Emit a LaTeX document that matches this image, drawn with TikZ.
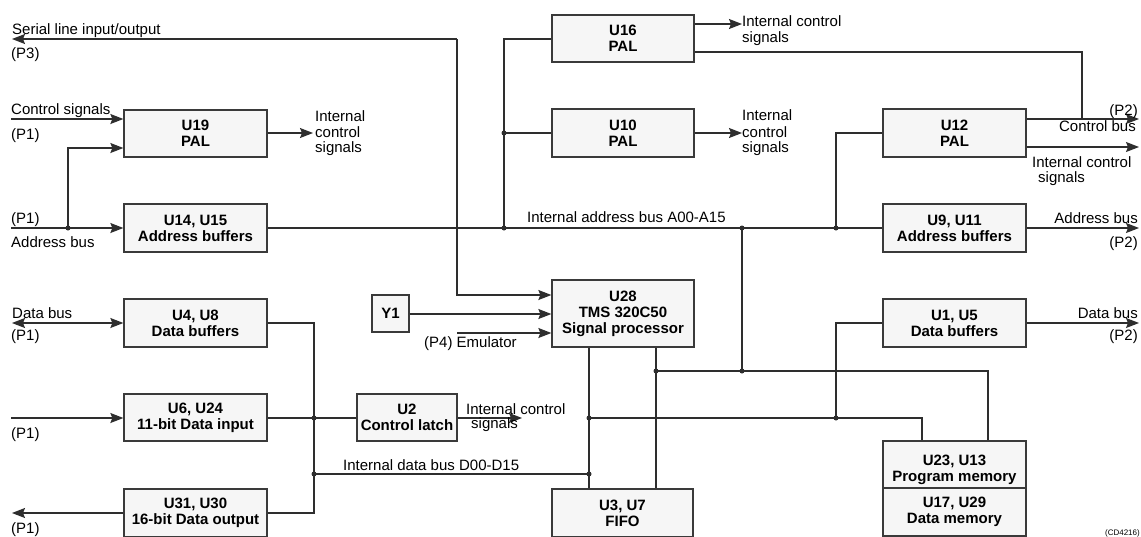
\documentclass[tikz,border=0pt]{standalone}
\usepackage{fontspec}
\setmainfont{Liberation Sans}
\usetikzlibrary{arrows.meta}
\definecolor{wirec}{HTML}{2E2E2E}
\definecolor{boxline}{HTML}{3A3A3A}
\definecolor{boxfill}{HTML}{F6F6F6}
\begin{document}
\begin{tikzpicture}[x=1pt,y=-1pt,
  unit/.style={draw=boxline, line width=1.3pt, fill=boxfill, inner sep=0,
    align=center, font=\fontsize{15}{16}\selectfont\bfseries},
  wire/.style={draw=wirec, line width=1.2pt},
  tip/.tip={Stealth[length=13pt,width=10pt,inset=2pt]},
  sig/.style={wire, -tip},
  bisig/.style={wire, tip-tip},
  lbl/.style={inner sep=0, font=\fontsize{15}{16}\selectfont},
  junc/.style={circle, fill=wirec, inner sep=0, minimum size=5pt}]

\useasboundingbox (0,0) rectangle (1141,536);
\fill[white] (0,0) rectangle (1141,536);
\clip (0,0) rectangle (1141,536);

% ---- units, left column
\node[unit, minimum width=143, minimum height=47] (u19) at (195.5,133.5) {U19\\PAL};
\node[unit, minimum width=143, minimum height=48] (u14) at (195.5,228) {U14, U15\\Address buffers};
\node[unit, minimum width=143, minimum height=48] (u4)  at (195.5,323) {U4, U8\\Data buffers};
\node[unit, minimum width=143, minimum height=47] (u6)  at (195.5,417.5) {U6, U24\\11-bit Data input};
\node[unit, minimum width=143, minimum height=48] (u31) at (195.5,513) {U31, U30\\16-bit Data output};

% ---- units, middle
\node[unit, minimum width=142, minimum height=47] (u16) at (623,38.5) {U16\\PAL};
\node[unit, minimum width=142, minimum height=48] (u10) at (623,133) {U10\\PAL};
\node[unit, minimum width=142, minimum height=67] (u28) at (623,313.5) {U28\\TMS 320C50\\Signal processor};
\node[unit, minimum width=37, minimum height=37] (y1) at (390.5,313.5) {Y1};
\node[unit, minimum width=100, minimum height=47] (u2) at (407,417.5) {U2\\Control latch};
\node[unit, minimum width=141, minimum height=48] (fifo) at (622.5,513) {U3, U7\\FIFO};

% ---- units, right column
\node[unit, minimum width=143, minimum height=48] (u12) at (954.5,133) {U12\\PAL};
\node[unit, minimum width=143, minimum height=48] (u9)  at (954.5,228) {U9, U11\\Address buffers};
\node[unit, minimum width=143, minimum height=48] (u1)  at (954.5,323) {U1, U5\\Data buffers};
\node[unit, minimum width=143, minimum height=47] (mem1) at (954.5,464.5) {};
\node[unit, draw=none, fill=none] (mem1t) at (954.5,470) {U23, U13\\Program memory};
\node[unit, minimum width=143, minimum height=48] (mem2) at (954.5,512) {U17, U29\\Data memory};

% ---- serial line
\coordinate (serL) at (12,39);
\coordinate (serJ) at (457,39);
\draw[sig] (serJ) -- (serL);
\draw[sig] (serJ) |- (u28.west |- 0,295);

% ---- control signals and address bus from P1
\coordinate (csL) at (11,119);
\draw[sig] (csL) -- (u19.west |- csL);
\coordinate (abL) at (11,228);
\coordinate (abJ) at (68,228);
\draw[sig] (abL) -- (u14.west);
\draw[sig] (abJ) |- (u19.west |- 0,148);
\coordinate (u19o) at (313,133);
\draw[sig] (u19.east |- u19o) -- (u19o);

% ---- internal address bus
\draw[wire] (u14.east) -- (u9.west);
\coordinate (ia1) at (504,228);
\coordinate (ia1b) at (504,133);
\coordinate (ia2) at (742,228);
\coordinate (ia3) at (836,228);
\draw[wire] (ia1) |- (u16.west |- 0,39);
\draw[wire] (ia1b) -- (u10.west);
\draw[wire] (ia3) |- (u12.west);

% ---- PAL outputs
\coordinate (u16o) at (742,24);
\draw[sig] (u16.east |- u16o) -- (u16o);
\coordinate (cbJ) at (1082,119);
\draw[wire] (u16.east |- 0,52) -| (cbJ);
\coordinate (u10o) at (742,133);
\draw[sig] (u10.east) -- (u10o);
\coordinate (cbR) at (1139,119);
\draw[sig] (u12.east |- cbR) -- (cbR);
\coordinate (icR) at (1139,147);
\draw[sig] (u12.east |- icR) -- (icR);

% ---- P2 buses
\coordinate (abR) at (1139,228);
\draw[sig] (u9.east) -- (abR);
\coordinate (dbR) at (1139,323);
\draw[sig] (u1.east) -- (dbR);

% ---- P1 data side
\coordinate (dbL) at (12,323);
\draw[bisig] (dbL) -- (u4.west);
\coordinate (dd1) at (314,418);
\coordinate (dd2) at (314,474);
\coordinate (ddB) at (314,513);
\draw[wire] (u4.east) -| (ddB) -- (u31.east);
\coordinate (doL) at (12,513);
\draw[sig] (u31.west) -- (doL);
\coordinate (diL) at (11,418);
\draw[sig] (diL) -- (u6.west |- diL);
\draw[wire] (u6.east |- dd1) -- (u2.west |- dd1);
\coordinate (u2o) at (522,418);
\draw[sig] (u2.east |- u2o) -- (u2o);

% ---- internal data bus and memory/FIFO wiring
\coordinate (dd3) at (589,474);
\draw[wire] (dd2) -- (dd3);
\draw[wire] (u28.south -| dd3) -- (fifo.north -| dd3);
\coordinate (pj) at (656,371);
\draw[wire] (u28.south -| pj) -- (fifo.north -| pj);
\coordinate (pm) at (742,371);
\draw[wire] (ia2) -- (pm);
\coordinate (pmR) at (988,371);
\draw[wire] (pj) -- (pmR) -- (mem1.north -| pmR);
\coordinate (dm) at (589,418);
\coordinate (dmJ) at (836,418);
\coordinate (dmR) at (922,418);
\draw[wire] (dm) -- (dmR) -- (mem1.north -| dmR);
\draw[wire] (dmJ) |- (u1.west);

% ---- clock and emulator into the DSP
\coordinate (ckI) at (552,314);
\draw[sig] (y1.east |- ckI) -- (u28.west |- ckI);
\coordinate (emL) at (457,333);
\draw[sig] (emL) -- (u28.west |- emL);

% ---- junction dots
\foreach \p in {abJ,ia1,ia1b,ia2,ia3,dd1,dd2,dd3,pj,pm,dm,dmJ}
  \node[junc] at (\p) {};

% ---- labels
\node[lbl, anchor=base west] (tSer) at (12,34) {Serial line input/output};
\node[lbl, anchor=base west] (tP3) at (11,58) {(P3)};
\node[lbl, anchor=base west] (tCs) at (11,114) {Control signals};
\node[lbl, anchor=base west] (tCsP) at (11,139) {(P1)};
\node[lbl, anchor=base west] (tA1) at (315,121) {Internal};
\node[lbl, anchor=base west] (tA2) at (315,137) {control};
\node[lbl, anchor=base west] (tA3) at (315,152) {signals};
\node[lbl, anchor=base west] (tAbP) at (11,223) {(P1)};
\node[lbl, anchor=base west] (tAb) at (11,247) {Address bus};
\node[lbl, anchor=base west] (tDb) at (12,318) {Data bus};
\node[lbl, anchor=base west] (tDbP) at (11,340) {(P1)};
\node[lbl, anchor=base west] (tDiP) at (11,438) {(P1)};
\node[lbl, anchor=base west] (tDoP) at (11,533) {(P1)};
\node[lbl, anchor=base west] (tB1) at (742,26) {Internal control};
\node[lbl, anchor=base west] (tB2) at (742,42) {signals};
\node[lbl, anchor=base west] (tC1) at (742,120) {Internal};
\node[lbl, anchor=base west] (tC2) at (742,137) {control};
\node[lbl, anchor=base west] (tC3) at (742,152) {signals};
\node[lbl, anchor=base east] (tCbP) at (1138,115) {(P2)};
\node[lbl, anchor=base east] (tCb) at (1136,131) {Control bus};
\node[lbl, anchor=base west] (tD1) at (1032,167) {Internal control};
\node[lbl, anchor=base west] (tD2) at (1038,182) {signals};
\node[lbl, anchor=base east] (tAbR) at (1138,223) {Address bus};
\node[lbl, anchor=base east] (tAbRP) at (1138,247) {(P2)};
\node[lbl, anchor=base east] (tDbR) at (1138,318) {Data bus};
\node[lbl, anchor=base east] (tDbRP) at (1138,340) {(P2)};
\node[lbl, anchor=base west] (tIab) at (527,222) {Internal address bus A00-A15};
\node[lbl, anchor=base west] (tIdb) at (343,470) {Internal data bus D00-D15};
\node[lbl, anchor=base west] (tE1) at (466,414) {Internal control};
\node[lbl, anchor=base west] (tE2) at (471,428) {signals};
\node[lbl, anchor=base west] (tEm) at (424,347) {(P4) Emulator};
\node[inner sep=0, anchor=base east, font=\fontsize{8}{9}\selectfont] (tRef) at (1140,535) {(CD4216)};

\end{tikzpicture}
\end{document}
